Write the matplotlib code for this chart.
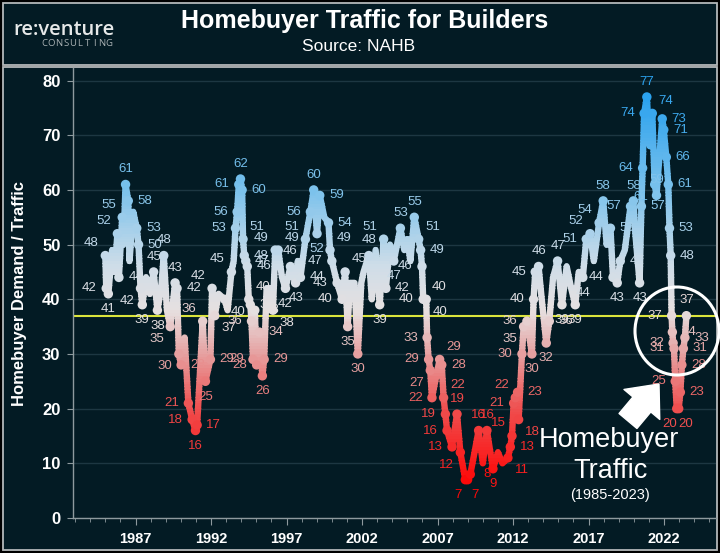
import numpy as np
import matplotlib
matplotlib.use('Agg')
import matplotlib.pyplot as plt
from matplotlib.colors import LinearSegmentedColormap, Normalize
from matplotlib.patches import Rectangle, Ellipse
from matplotlib.ticker import MultipleLocator

# NAHB traffic index (decimal year, index value)
dates = [
    1985.00, 1985.06, 1985.20, 1985.45, 1985.62, 1985.80, 1985.90, 1986.12, 1986.20, 1986.34,
    1986.52, 1986.60, 1986.85, 1987.08, 1987.20, 1987.33, 1987.45, 1987.70, 1987.95, 1988.20,
    1988.45, 1988.70, 1988.87, 1989.08, 1989.30, 1989.62, 1989.75, 1989.87, 1990.02, 1990.25,
    1990.50, 1990.75, 1990.97, 1991.08, 1991.45, 1991.63, 1991.96, 1992.07, 1992.25, 1992.50,
    1992.90, 1993.10, 1993.35, 1993.50, 1993.62, 1993.73, 1993.84, 1993.95, 1994.06, 1994.12,
    1994.20, 1994.30, 1994.40, 1994.50, 1994.60, 1994.68, 1994.78, 1994.90, 1995.02, 1995.20,
    1995.40, 1995.52, 1995.68, 1995.90, 1996.10, 1996.25, 1996.45, 1996.70, 1996.93, 1997.26,
    1997.45, 1997.60, 1997.75, 1997.92, 1998.25, 1998.58, 1998.80, 1999.02, 1999.20, 1999.50,
    1999.78, 1999.88, 2000.00, 2000.35, 2000.68, 2000.88, 2001.05, 2001.20, 2001.50, 2001.72,
    2001.95, 2002.10, 2002.45, 2002.65, 2002.90, 2003.17, 2003.43, 2003.58, 2003.85, 2004.10,
    2004.54, 2004.80, 2005.00, 2005.20, 2005.46, 2005.75, 2005.88, 2005.97, 2006.05, 2006.17,
    2006.25, 2006.31, 2006.41, 2006.52, 2006.63, 2006.85, 2007.14, 2007.28, 2007.40, 2007.52,
    2007.63, 2007.96, 2008.29, 2008.51, 2008.84, 2008.99, 2009.17, 2009.45, 2009.72, 2010.00,
    2010.27, 2010.67, 2011.00, 2011.30, 2011.66, 2011.82, 2011.93, 2012.04, 2012.15, 2012.30,
    2012.37, 2012.59, 2012.70, 2012.92, 2013.25, 2013.36, 2013.47, 2013.69, 2013.90, 2014.20,
    2014.40, 2014.65, 2014.95, 2015.24, 2015.55, 2015.85, 2016.12, 2016.35, 2016.62, 2016.85,
    2017.10, 2017.35, 2017.70, 2017.97, 2018.20, 2018.45, 2018.62, 2018.90, 2019.10, 2019.40,
    2019.78, 2019.97, 2020.10, 2020.38, 2020.50, 2020.58, 2020.68, 2020.86, 2021.05, 2021.22,
    2021.38, 2021.50, 2021.88, 2021.98, 2022.15, 2022.28, 2022.36, 2022.44, 2022.50, 2022.55,
    2022.60, 2022.66, 2022.74, 2022.84, 2022.97, 2023.08, 2023.18, 2023.28, 2023.38, 2023.48,
]
traffic = [
    48, 42, 41, 49, 45, 52, 44, 55, 50, 61,
    58, 47, 56, 53, 50, 42, 39, 44, 41, 45,
    38, 42, 48, 38, 35, 43, 42, 30, 28, 33,
    21, 18, 16, 17, 36, 25, 29, 42, 37, 41,
    40, 38, 45, 47, 53, 56, 61, 62, 60, 51,
    48, 47, 46, 40, 39, 36, 29, 38, 28, 34,
    26, 29, 42, 42, 38, 49, 49, 44, 42, 46,
    44, 43, 47, 44, 51, 56, 60, 52, 59, 55,
    54, 49, 47, 43, 40, 45, 35, 43, 43, 30,
    43, 45, 48, 40, 49, 39, 51, 42, 50, 47,
    53, 49, 51, 47, 55, 51, 49, 46, 40, 40,
    40, 33, 29, 27, 22, 25, 29, 28, 22, 19,
    16, 13, 19, 12, 7, 7, 8, 12, 16, 10,
    16, 9, 12, 10, 11, 13, 15, 21, 22, 23,
    18, 30, 35, 36, 30, 40, 45, 46, 40, 32,
    36, 44, 47, 39, 46, 42, 39, 45, 44, 51,
    52, 47, 54, 58, 50, 53, 44, 43, 47, 49,
    57, 58, 52, 43, 57, 64, 74, 77, 68, 74,
    61, 59, 73, 71, 66, 61, 53, 48, 37, 34,
    32, 31, 25, 20, 20, 23, 28, 31, 33, 37,
]
# which points carry a value label, and on which side ('' = none)
label_side = [
    'TL', 'L', 'B', '', '', 'TL', 'R', 'TL', '', 'T',
    'R', '', '', 'R', 'R', 'BL', 'B', '', '', 'T',
    'B', '', 'T', '', 'BL', 'T', 'R', 'BL', 'R', '',
    'L', 'L', 'B', 'R', 'TL', 'B', 'R', 'TL', 'BR', '',
    'BR', '', 'TL', '', 'L', 'L', 'L', 'T', 'R', 'TR',
    'R', 'R', 'R', 'TR', 'R', 'L', 'L', 'R', 'L', 'R',
    'B', 'R', '', '', 'BR', 'TL', 'TR', '', 'B', 'T',
    '', 'B', '', 'R', 'TL', 'L', 'T', 'B', 'R', '',
    'R', 'TR', 'L', 'L', 'L', 'TR', 'B', '', '', 'B',
    '', '', 'T', '', '', 'B', 'TL', 'R', '', 'B',
    'T', '', '', '', 'T', 'TR', 'R', 'L', 'L', 'TR',
    'BR', 'L', 'L', 'BL', 'L', '', 'TR', 'R', 'TR', 'L',
    'L', 'L', 'T', 'BL', 'Bl', 'Br', 'R', '', 'T', '',
    'T', 'B', '', '', 'BR', 'R', 'TL', 'L', 'TL', 'R',
    'BR', 'L', 'BL', 'L', 'B', 'L', 'L', 'T', '', 'B',
    'R', '', 'T', 'B', '', '', 'B', '', 'B', 'L',
    'TL', '', 'TL', 'T', '', 'R', 'L', 'B', 'R', '',
    'L', 'T', '', 'B', 'R', 'L', 'L', 'T', '', 'TR',
    'BL', 'T', 'R', 'R', 'R', 'R', 'R', 'R', 'L', 'R',
    'L', 'L', 'L', 'Bl', 'Br', 'R', 'R', 'R', 'R', 'T',
]
assert len(dates) == len(traffic) == len(label_side)

reference_level = 37
y_ticks = [0, 10, 20, 30, 40, 50, 60, 70, 80]
x_ticks = [1987, 1992, 1997, 2002, 2007, 2012, 2017, 2022]

bg = '#031b24'
W, H = 720, 553


def fx(px):
    return px / W


def fy(py):
    return 1 - py / H


fig = plt.figure(figsize=(7.2, 5.53), dpi=100, facecolor='black')

# panel frames
fig.add_artist(Rectangle((fx(3), fy(65)), fx(717) - fx(3), fy(3) - fy(65),
                         transform=fig.transFigure, facecolor=bg,
                         edgecolor='#b4b8ba', lw=1.3, zorder=0))
fig.add_artist(Rectangle((fx(3), fy(550)), fx(717) - fx(3), fy(67) - fy(550),
                         transform=fig.transFigure, facecolor=bg,
                         edgecolor='#b4b8ba', lw=1.3, zorder=0))

# header texts
fig.text(fx(365), fy(21), 'Homebuyer Traffic for Builders', color='white',
         fontsize=18, fontweight='bold', family='Liberation Sans',
         ha='center', va='center')
fig.text(fx(359), fy(47), 'Source: NAHB', color='white', fontsize=12.5,
         family='Liberation Sans', ha='center', va='center')
fig.text(fx(64), fy(30), 're:venture', color='#e6e8e8', fontsize=14.5,
         family='Open Sans', fontweight='semibold', ha='center', va='center')
# letter-spaced logo subline
for k, ch in enumerate('CONSULTING'):
    fig.text(fx(44 + k * 7.2), fy(44), ch, color='#aab2b4', fontsize=6.8,
             family='Open Sans', ha='center', va='center')

ax = fig.add_axes([fx(73), fy(518), fx(716) - fx(73), fy(68) - fy(518)])
ax.set_facecolor('none')
ax.set_xlim(1982.86, 2025.44)
ax.set_ylim(0, 82.3)

cmap = LinearSegmentedColormap.from_list('traffic', [
    (0.0, '#ff0000'), (0.2, '#ef4f4f'), (0.333, '#e6a0a0'), (0.44, '#e6e0e0'),
    (0.547, '#cfdde8'), (0.733, '#7cc2ec'), (0.96, '#2ba2ee'), (1.0, '#229cee')])
norm = Normalize(5, 80)

# yellow reference line
ax.axhline(reference_level, color='#dbe43c', lw=1.5, zorder=2)

# value-coloured line: the same path drawn in thin horizontal colour bands
band = 0.5
for lo in np.arange(0, 82, band):
    ln, = ax.plot(dates, traffic, color=cmap(norm(lo + band / 2)), lw=4.6,
                  solid_joinstyle='round', solid_capstyle='round', zorder=3)
    ln.set_clip_path(Rectangle((1980, lo - 0.05), 50, band + 0.1,
                               transform=ax.transData))

lab = [i for i, s in enumerate(label_side) if s]
ax.scatter([dates[i] for i in lab], [traffic[i] for i in lab],
           c=[traffic[i] for i in lab], cmap=cmap, norm=norm, s=46,
           edgecolors='none', zorder=4)

offsets = {'L': (-12, 0), 'R': (12, 0), 'T': (0, 11), 'B': (0, -11),
           'TL': (-10, 9), 'TR': (10, 9), 'BL': (-10, -9), 'BR': (10, -9),
           'Bl': (-5, -11), 'Br': (5, -11)}
for i in lab:
    ax.annotate(str(traffic[i]), (dates[i], traffic[i]),
                xytext=offsets[label_side[i]], textcoords='offset points',
                ha='center', va='center', fontsize=9.5,
                family='Liberation Sans', color=cmap(norm(traffic[i])),
                zorder=5)

# axes styling
ax.set_yticks(y_ticks)
ax.set_xticks(x_ticks)
ax.xaxis.set_minor_locator(MultipleLocator(1))
ax.grid(axis='y', color='#1d3742', lw=1, zorder=1)
ax.set_axisbelow(True)
for s in ['top', 'right']:
    ax.spines[s].set_visible(False)
for s in ['left', 'bottom']:
    ax.spines[s].set_color('#8e9a9e')
    ax.spines[s].set_linewidth(1)
ax.tick_params(axis='both', which='both', color='#8e9a9e')
ax.tick_params(axis='y', length=4, pad=5, labelcolor='white')
ax.tick_params(axis='x', which='major', length=5, pad=5, labelcolor='white')
ax.tick_params(axis='x', which='minor', length=3)
for t in ax.get_yticklabels():
    t.set_fontsize(12)
    t.set_fontweight('bold')
    t.set_family('Liberation Sans')
for t in ax.get_xticklabels():
    t.set_fontsize(10.5)
    t.set_fontweight('bold')
    t.set_family('Liberation Sans')

fig.text(fx(20), fy(293), 'Homebuyer Demand / Traffic', color='white',
         fontsize=12, fontweight='bold', family='Liberation Sans',
         rotation=90, ha='center', va='center')

# annotation: circle, arrow and caption
fig.add_artist(Ellipse((fx(677), fy(331)), 84 / W, 88 / H,
                       transform=fig.transFigure, fill=False,
                       edgecolor='white', lw=2.2, zorder=6))
ax.annotate('', xy=(fx(659), fy(384)), xytext=(fx(628), fy(421)),
            xycoords='figure fraction', textcoords='figure fraction',
            arrowprops=dict(arrowstyle='simple,head_length=0.8,head_width=1.4,tail_width=0.7',
                            color='white', mutation_scale=24, shrinkA=0, shrinkB=0),
            zorder=6)
fig.text(fx(609), fy(440), 'Homebuyer', color='white', fontsize=19.5,
         family='Liberation Sans', ha='center', va='center')
fig.text(fx(611), fy(471), 'Traffic', color='white', fontsize=19.5,
         family='Liberation Sans', ha='center', va='center')
fig.text(fx(610), fy(495), '(1985-2023)', color='white', fontsize=10.5,
         family='Liberation Sans', ha='center', va='center')

fig.savefig('out.png', dpi=100, facecolor=fig.get_facecolor())
